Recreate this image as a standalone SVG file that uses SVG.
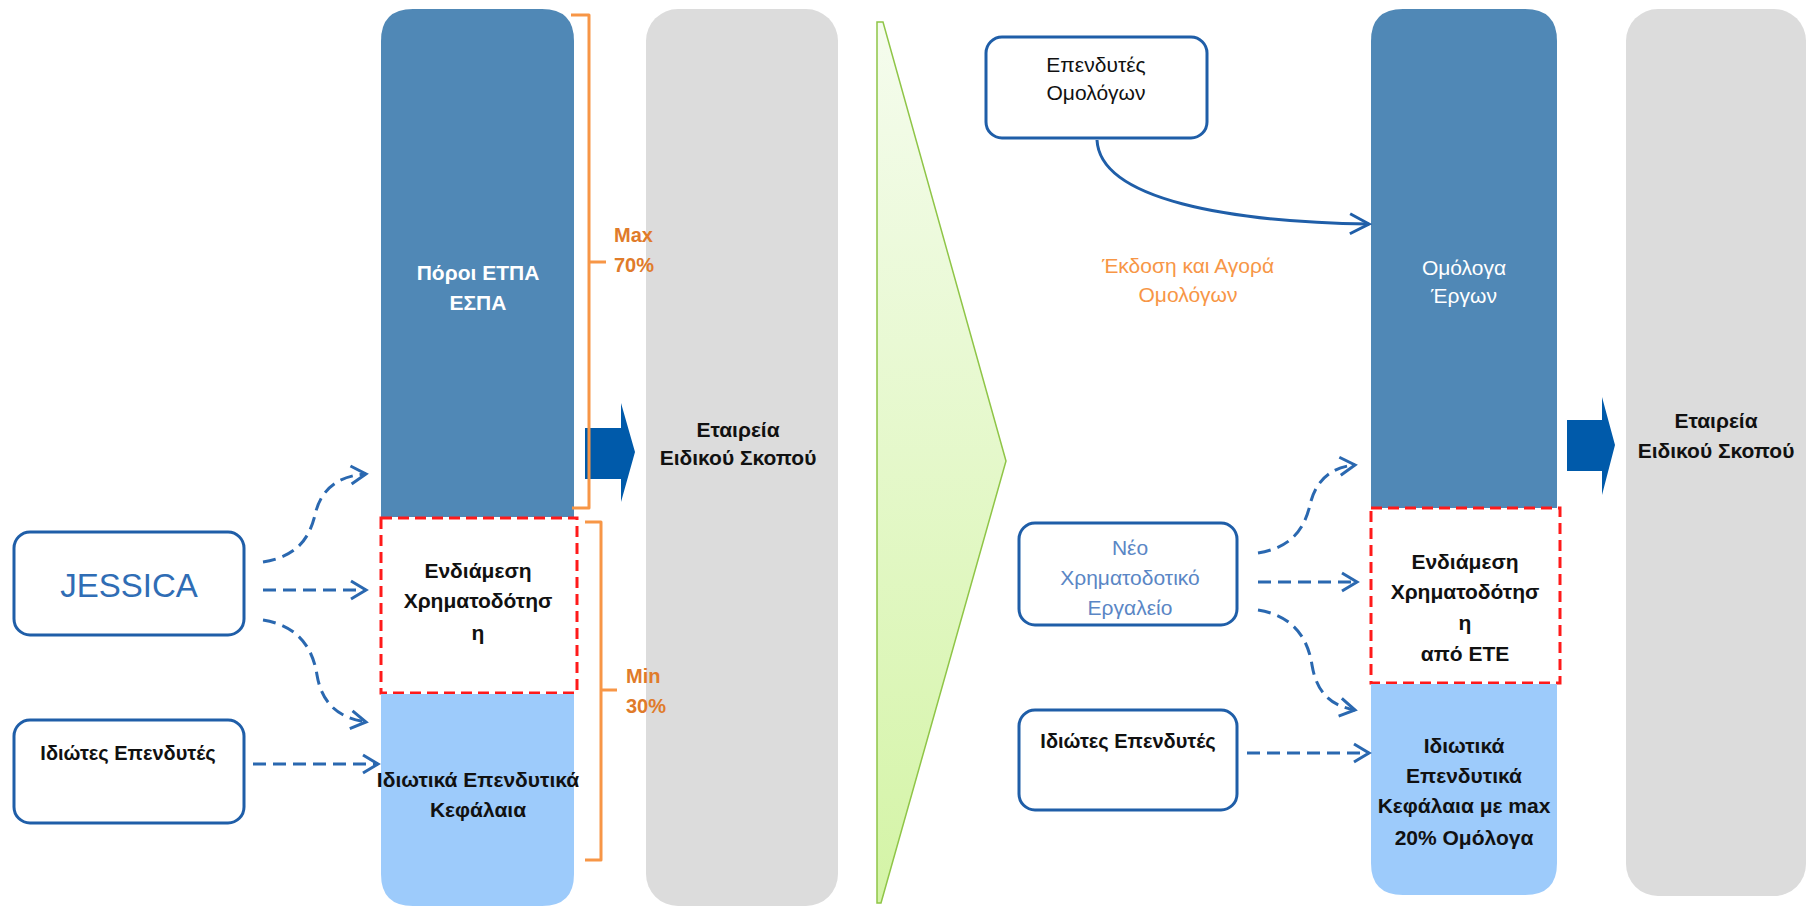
<svg xmlns="http://www.w3.org/2000/svg" width="1807" height="908" viewBox="0 0 1807 908">
<style>
text{font-family:"Liberation Sans",Arial,sans-serif;text-anchor:middle}
.b{font-weight:bold;font-size:21px;fill:#111}
.w{font-size:21px;fill:#fff}
.wb{font-size:21px;fill:#fff;font-weight:bold}
.r{font-size:21px;fill:#111}
.box{fill:#fff;stroke:#1f5ea8;stroke-width:3}
.dk{fill:#5088b6}
.lt{fill:#9dcbfb}
.gr{fill:#dcdcdc}
.red{fill:#fff;stroke:#ff1a1a;stroke-width:3;stroke-dasharray:11 6}
.br{fill:none;stroke:#f79646;stroke-width:3;stroke-linejoin:round}
.pct{font-weight:bold;font-size:20px;fill:#e07b2a;text-anchor:start}
.dash{fill:none;stroke:#2a68b0;stroke-width:3;stroke-dasharray:13 7;marker-end:url(#ch)}
.solid{fill:none;stroke:#1f5ea8;stroke-width:3;marker-end:url(#ch2)}
.blk{fill:#005aaa}
</style>
<defs>
<linearGradient id="gg" x1="0" y1="0" x2="0" y2="1">
<stop offset="0" stop-color="#f5fcee"/>
<stop offset="1" stop-color="#d4f4a6"/>
</linearGradient>
<marker id="ch" viewBox="0 0 20 22" refX="17" refY="11" markerWidth="20" markerHeight="22" markerUnits="userSpaceOnUse" orient="auto">
<path d="M2,2 L17,11 L2,20" fill="none" stroke="#2a68b0" stroke-width="3" stroke-dasharray="none"/>
</marker>
<marker id="ch2" viewBox="0 0 24 24" refX="21" refY="12" markerWidth="24" markerHeight="24" markerUnits="userSpaceOnUse" orient="auto">
<path d="M2,2 L21,12 L2,22" fill="none" stroke="#1f5ea8" stroke-width="3" stroke-dasharray="none"/>
</marker>
</defs>
<rect width="1807" height="908" fill="#fff"/>

<!-- Left side -->
<g id="left-column">
<path class="dk" d="M381,517 V41 Q381,9 413,9 H542 Q574,9 574,41 V517 Z"/>
<text class="wb" x="478" y="280">Πόροι ΕΤΠΑ</text>
<text class="wb" x="478" y="310">ΕΣΠΑ</text>
<rect class="red" x="381" y="518" width="196" height="175"/>
<text class="b" x="478" y="578">Ενδιάμεση</text>
<text class="b" x="478" y="608">Χρηματοδότησ</text>
<text class="b" x="478" y="640">η</text>
<path class="lt" d="M381,694 H574 V874 Q574,906 542,906 H413 Q381,906 381,874 Z"/>
<text class="b" x="478" y="787">Ιδιωτικά Επενδυτικά</text>
<text class="b" x="478" y="817">Κεφάλαια</text>
</g>

<g id="left-spv">
<rect class="gr" x="646" y="9" width="192" height="897" rx="32"/>
<text class="b" x="738" y="437">Εταιρεία</text>
<text class="b" x="738" y="465">Ειδικού Σκοπού</text>
</g>

<g id="left-arrow">
<path class="blk" d="M585,428 H621 V403 L635,452 L621,502 V479 H585 Z"/>
</g>

<g id="left-brackets">
<path class="br" d="M571,15 H589 V508 H572 M589,262 H606"/>
<text class="pct" x="614" y="242">Max</text>
<text class="pct" x="614" y="272">70%</text>
<path class="br" d="M585,522 H601 V860 H585 M601,690 H617"/>
<text class="pct" x="626" y="683">Min</text>
<text class="pct" x="626" y="713">30%</text>
</g>

<g id="jessica">
<rect class="box" x="14" y="532" width="230" height="103" rx="16"/>
<text x="129" y="597" style="font-size:33px;fill:#2f6db5">JESSICA</text>
</g>

<g id="left-private">
<rect class="box" x="14" y="720" width="230" height="103" rx="16"/>
<text class="b" x="128" y="760" style="font-size:20px">Ιδιώτες Επενδυτές</text>
</g>

<!-- Divider chevron -->
<g id="divider">
<path d="M877,22 H883 L1006,461 L881,903 H877 Z" fill="url(#gg)" stroke="#8fc547" stroke-width="1.5"/>
</g>

<!-- Right side -->
<g id="bond-investors">
<rect class="box" x="986" y="37" width="221" height="101" rx="16"/>
<text class="r" x="1096" y="72">Επενδυτές</text>
<text class="r" x="1096" y="100">Ομολόγων</text>
</g>

<g id="issue-label">
<text x="1188" y="273" style="font-size:21px;fill:#f79646">Έκδοση και Αγορά</text>
<text x="1188" y="302" style="font-size:21px;fill:#f79646">Ομολόγων</text>
</g>

<g id="right-column">
<path class="dk" d="M1371,508 V41 Q1371,9 1403,9 H1525 Q1557,9 1557,41 V508 Z"/>
<text class="w" x="1464" y="275">Ομόλογα</text>
<text class="w" x="1464" y="303">Έργων</text>
<rect class="red" x="1371" y="508" width="189" height="175"/>
<text class="b" x="1465" y="569">Ενδιάμεση</text>
<text class="b" x="1465" y="599">Χρηματοδότησ</text>
<text class="b" x="1465" y="630">η</text>
<text class="b" x="1465" y="661">από ΕΤΕ</text>
<path class="lt" d="M1371,684 H1557 V863 Q1557,895 1525,895 H1403 Q1371,895 1371,863 Z"/>
<text class="b" x="1464" y="753">Ιδιωτικά</text>
<text class="b" x="1464" y="783">Επενδυτικά</text>
<text class="b" x="1464" y="813">Κεφάλαια με max</text>
<text class="b" x="1464" y="845">20% Ομόλογα</text>
</g>

<g id="right-spv">
<rect class="gr" x="1626" y="9" width="180" height="887" rx="32"/>
<text class="b" x="1716" y="428">Εταιρεία</text>
<text class="b" x="1716" y="458">Ειδικού Σκοπού</text>
</g>

<g id="right-arrow">
<path class="blk" d="M1567,420 H1602 V397 L1615,445 L1602,495 V471 H1567 Z"/>
</g>

<g id="new-instrument">
<rect class="box" x="1019" y="523" width="218" height="102" rx="16"/>
<text x="1130" y="555" style="font-size:21px;fill:#5a86c5">Νέο</text>
<text x="1130" y="585" style="font-size:21px;fill:#5a86c5">Χρηματοδοτικό</text>
<text x="1130" y="615" style="font-size:21px;fill:#5a86c5">Εργαλείο</text>
</g>

<g id="right-private">
<rect class="box" x="1019" y="710" width="218" height="100" rx="16"/>
<text class="b" x="1128" y="748" style="font-size:20px">Ιδιώτες Επενδυτές</text>
</g>

<g id="connectors">
<path class="dash" d="M263,562 C300,556 310,535 315,515 C320,492 335,476 366,474"/>
<path class="dash" d="M263,590 H366"/>
<path class="dash" d="M263,620 C300,626 313,650 317,675 C322,705 340,718 366,722"/>
<path class="dash" d="M253,764 H378"/>
<path class="dash" d="M1258,553 C1295,547 1305,525 1310,505 C1315,482 1330,467 1355,465"/>
<path class="dash" d="M1258,582 H1357"/>
<path class="dash" d="M1258,610 C1295,616 1308,640 1312,665 C1317,695 1333,706 1355,710"/>
<path class="dash" d="M1247,753 H1369"/>
<path class="solid" d="M1097,140 C1100,200 1230,222 1369,224"/>
</g>
</svg>
